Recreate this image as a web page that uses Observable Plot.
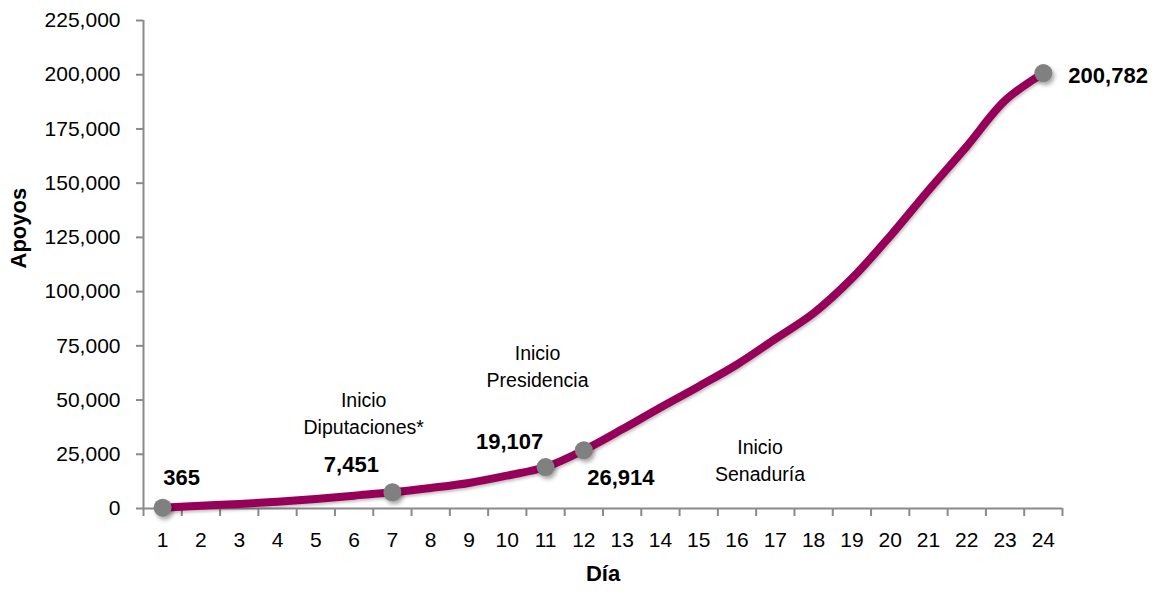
<!DOCTYPE html>
<html>
<head>
<meta charset="utf-8">
<script src="https://cdn.jsdelivr.net/npm/d3@7"></script>
<script src="https://cdn.jsdelivr.net/npm/@observablehq/plot@0.6"></script>
<style>
  html, body { margin: 0; padding: 0; background: #fff; }
  #chart svg { font-family: "Liberation Sans", Arial, sans-serif; }
</style>
</head>
<body>
<div id="chart"></div>
<script>
const days = [1,2,3,4,5,6,7,8,9,10,11,12,13,14,15,16,17,18,19,20,21,22,23,24];
const apoyos = [365,1273,2045,3126,4362,5906,7451,9459,11776,15174,19107,26914,36500,46600,56300,66400,78200,90100,106100,125600,146700,167000,188100,200782];
const yTicks = [0,25000,50000,75000,100000,125000,150000,175000,200000,225000];
const highlightDays = [1,7,11,12,24];
const labelOffsets = [
  {day: 1, dx: 19, dy: -30, anchor: "middle"},
  {day: 7, dx: -41, dy: -27, anchor: "middle"},
  {day: 11, dx: -36, dy: -25, anchor: "middle"},
  {day: 12, dx: 37, dy: 28, anchor: "middle"},
  {day: 24, dx: 25, dy: 3, anchor: "start"}
];
const annotDays = [6.25, 10.79, 16.6];
const annotValues = [44700, 66400, 23000];
const annotTexts = ["Inicio\nDiputaciones*", "Inicio\nPresidencia", "Inicio\nSenaduría"];

const data = days.map((d, i) => ({day: d, value: apoyos[i]}));
const points = data.filter(d => highlightDays.includes(d.day));
const annotations = annotDays.map((d, i) => ({day: d, value: annotValues[i], text: annotTexts[i]}));
const boundaries = days.map(d => d - 0.5).concat([days[days.length - 1] + 0.5]);
const fmt = d3.format(",");
const axisColor = "#8a8a8a";

const labelMarks = labelOffsets.map(o => Plot.text(points.filter(p => p.day === o.day), {
  x: "day", y: "value", text: d => fmt(d.value),
  dx: o.dx, dy: o.dy, textAnchor: o.anchor,
  fontSize: 22, fontWeight: "bold", fill: "#000"
}));

const chart = Plot.plot({
  width: 1152,
  height: 595,
  marginLeft: 143,
  marginRight: 90,
  marginTop: 20,
  marginBottom: 87,
  x: {domain: [0.5, 24.5]},
  y: {domain: [0, 225000]},
  style: {fontSize: "21px", background: "#fff"},
  marks: [
    Plot.ruleY([0], {stroke: axisColor, strokeWidth: 2}),
    Plot.ruleX([0.5], {stroke: axisColor, strokeWidth: 2}),
    Plot.axisX(boundaries, {tickSize: 8, tickFormat: () => "", stroke: axisColor, strokeWidth: 2, label: null}),
    Plot.axisX(days, {tickSize: 0, tickPadding: 24, fontSize: 21, fill: "#000", label: null}),
    Plot.axisY(yTicks, {tickSize: 7, tickPadding: 16, tickFormat: fmt, stroke: axisColor, strokeWidth: 2, fontSize: 21, fill: "#000", label: null}),
    Plot.line(data, {x: "day", y: "value", stroke: "#970058", strokeWidth: 8, curve: "catmull-rom"}),
    Plot.dot(points, {x: "day", y: "value", r: 9, fill: "#808080", stroke: "none"}),
    ...labelMarks,
    Plot.text(annotations, {x: "day", y: "value", text: "text", fontSize: 19.5, fill: "#000", lineHeight: 1.4}),
    Plot.text(["Día"], {frameAnchor: "bottom", dy: 72, fontWeight: "bold", fontSize: 22, fill: "#000"}),
    Plot.text(["Apoyos"], {frameAnchor: "left", dx: -125, dy: 4, rotate: -90, fontWeight: "bold", fontSize: 22, fill: "#000"})
  ]
});

document.getElementById("chart").appendChild(chart);
chart.querySelectorAll('g[aria-label="dot"] circle').forEach(c => {
  c.style.filter = "drop-shadow(2px 3px 2px rgba(0,0,0,0.35))";
});
chart.querySelectorAll('g[aria-label="line"] path').forEach(p => {
  p.style.filter = "drop-shadow(1px 2px 1.5px rgba(0,0,0,0.25))";
});
</script>
</body>
</html>
